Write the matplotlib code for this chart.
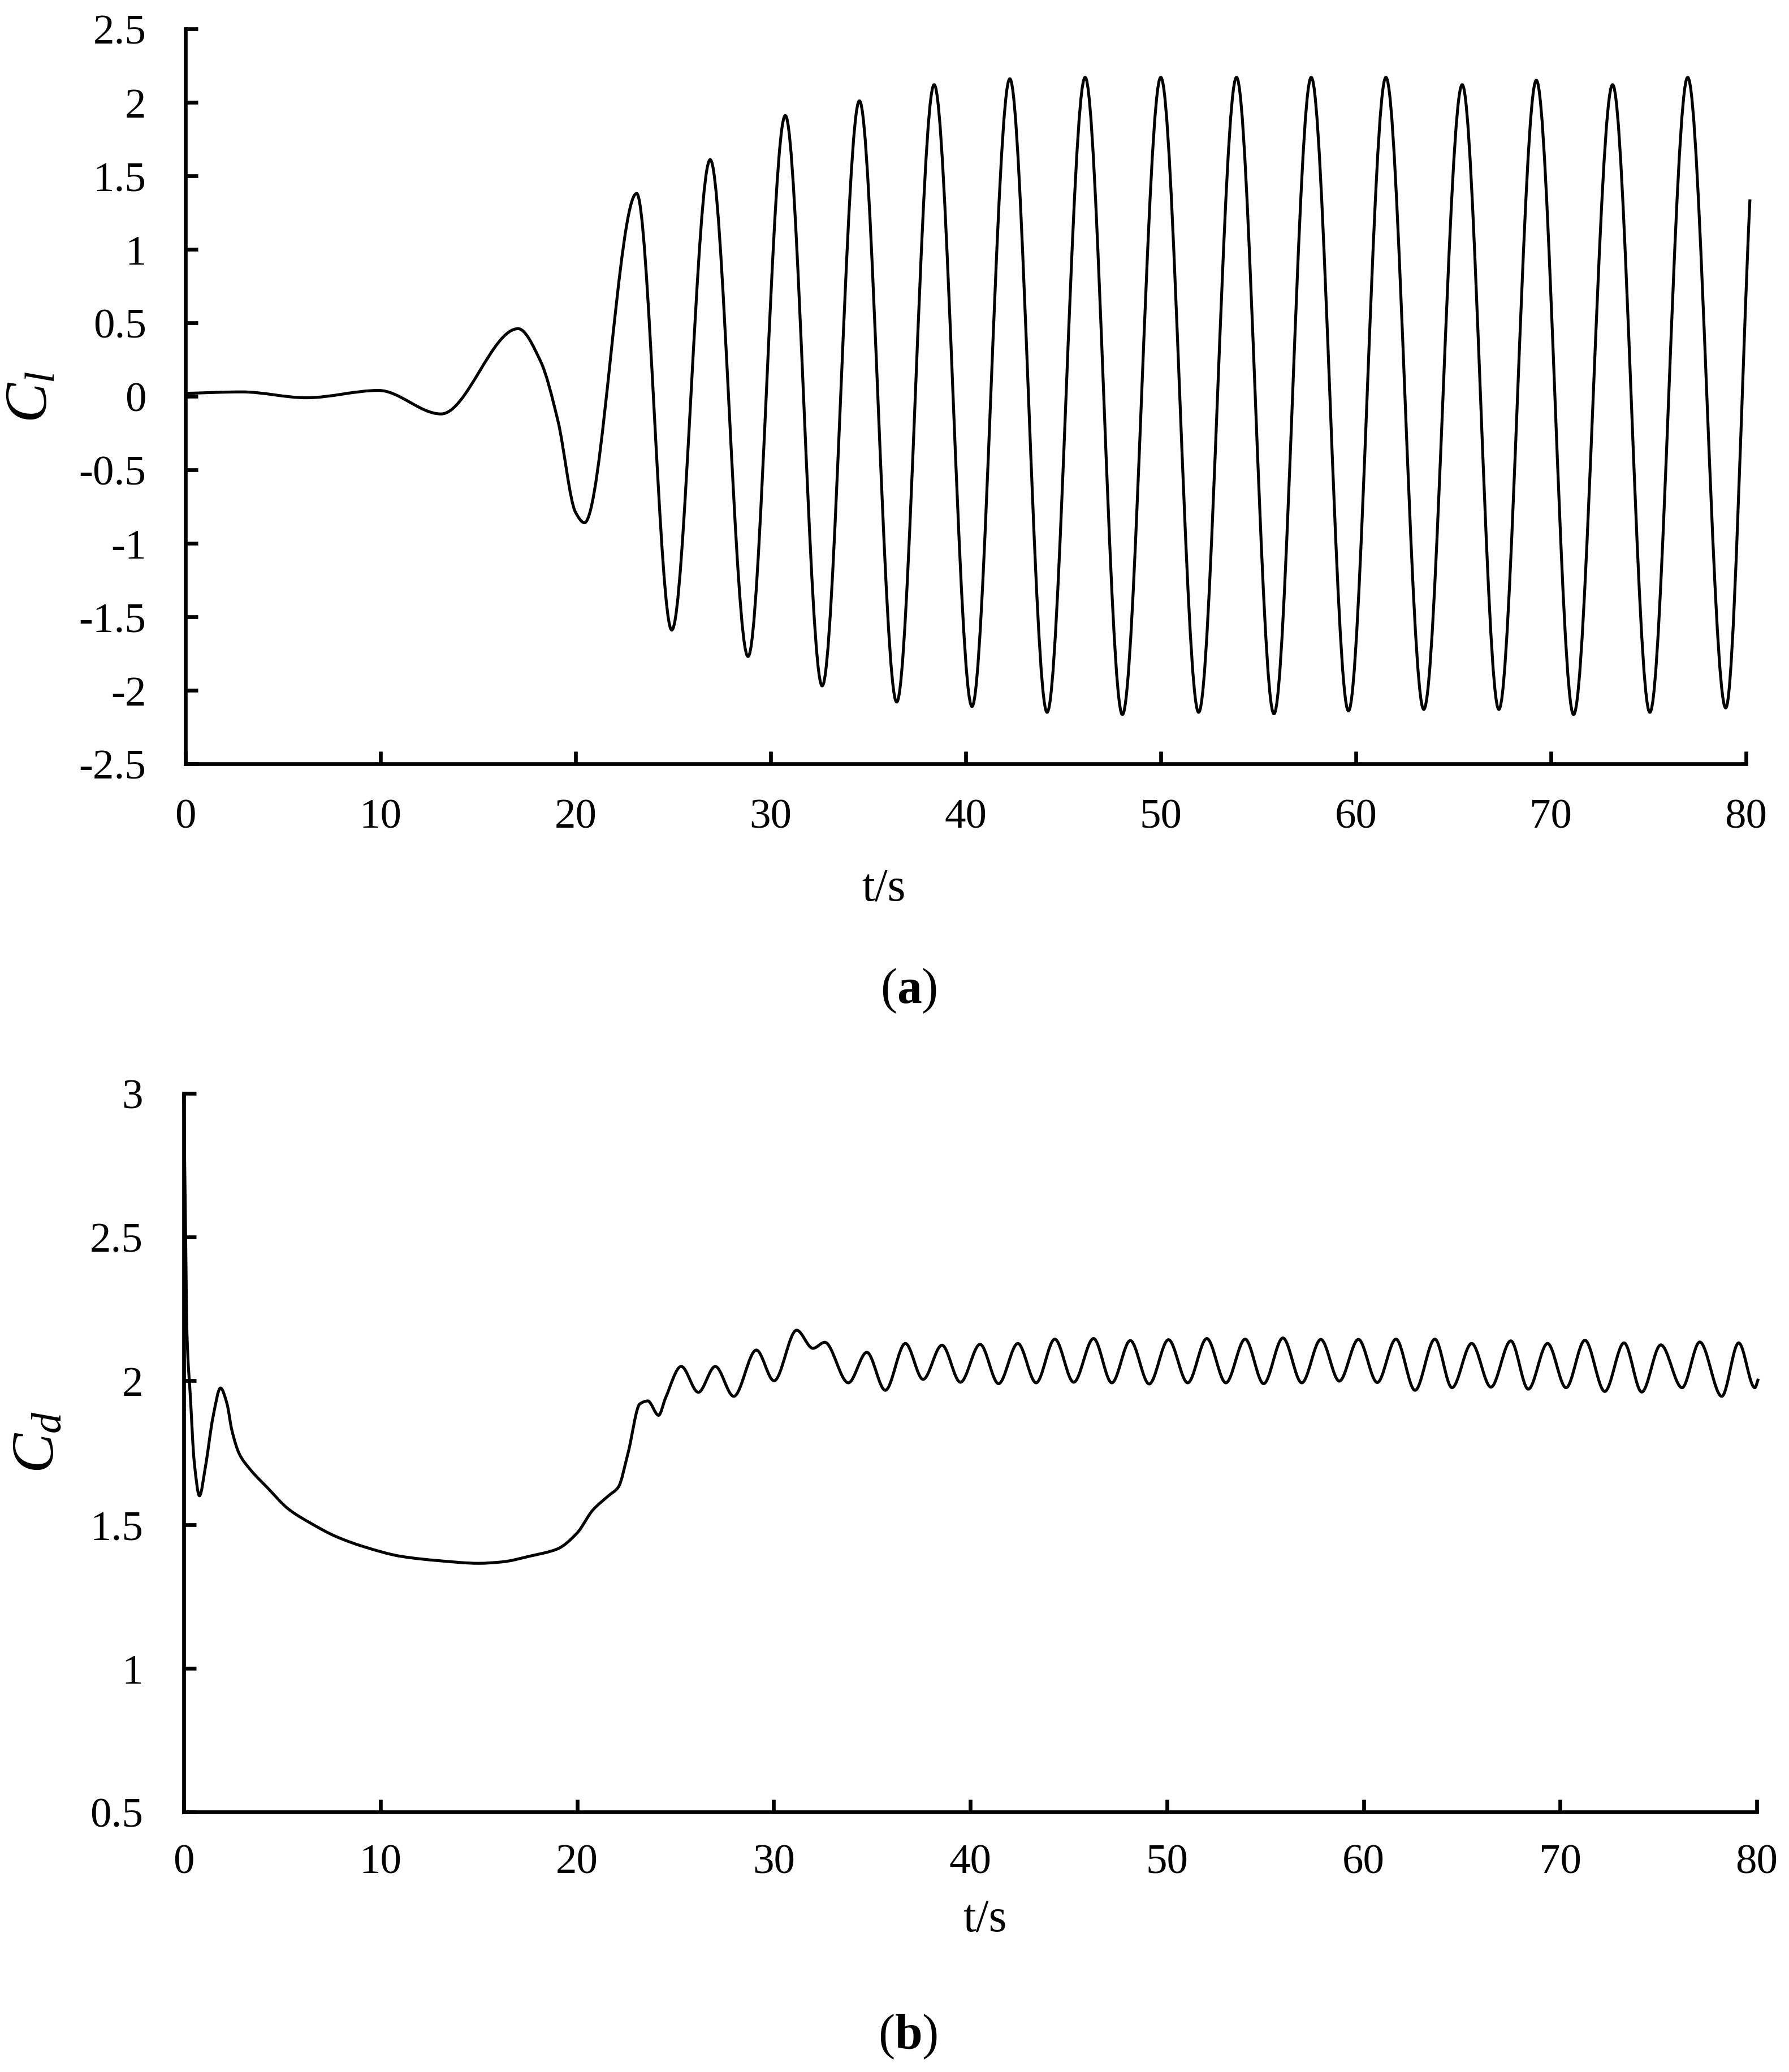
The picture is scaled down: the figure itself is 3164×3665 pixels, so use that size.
import numpy as np
import matplotlib
matplotlib.use("Agg")
import matplotlib.pyplot as plt
from matplotlib.path import Path
from matplotlib.patches import PathPatch

plt.rcParams['font.family'] = ['Liberation Serif', 'DejaVu Serif']
plt.rcParams['mathtext.fontset'] = 'custom'
plt.rcParams['mathtext.rm'] = 'Liberation Serif'
plt.rcParams['mathtext.it'] = 'Liberation Serif:italic'
plt.rcParams['mathtext.bf'] = 'Liberation Serif:bold'
plt.rcParams['axes.unicode_minus'] = False

# lift coefficient (turning points and a few shape points)
cl_t = [0.0, 2.9, 6.2, 9.9, 13.1, 17.05, 18.2, 19.1, 20.0, 20.45,
        23.13, 24.93, 26.9, 28.84, 30.75, 32.64, 34.55, 36.46, 38.38, 40.32,
        42.26, 44.17, 46.12, 48.03, 50.0, 51.94, 53.88, 55.8, 57.71, 59.62,
        61.54, 63.48, 65.45, 67.33, 69.25, 71.16, 73.16, 75.07, 77.01, 78.96,
        80.2]
cl_v = [0.02, 0.03, -0.01, 0.04, -0.12, 0.46, 0.24, -0.17, -0.79, -0.86,
        1.38, -1.59, 1.61, -1.77, 1.91, -1.97, 2.01, -2.08, 2.12, -2.11,
        2.16, -2.15, 2.17, -2.165, 2.17, -2.15, 2.17, -2.16, 2.17, -2.14,
        2.17, -2.13, 2.12, -2.13, 2.15, -2.165, 2.12, -2.15, 2.17, -2.12,
        1.34]

# drag coefficient
cd_t = [0.0, 0.1, 0.16, 0.34, 0.53, 0.8, 1.1, 1.49, 1.87, 2.2,
        2.44, 2.83, 3.4, 4.27, 5.32, 6.47, 7.72, 9.15, 11.07, 13.0,
        15.0, 16.2, 17.6, 19.0, 20.0, 20.8, 21.6, 22.1, 22.6, 23.2,
        23.6, 24.15, 24.5, 25.3, 26.17, 27.03, 27.97, 29.12, 30.02, 31.17,
        32.0, 32.6, 33.8, 34.74, 35.68, 36.7, 37.6, 38.56, 39.5, 40.5,
        41.44, 42.42, 43.35, 44.3, 45.26, 46.27, 47.2, 48.14, 49.1, 50.08,
        51.06, 52.03, 53.0, 53.98, 54.92, 55.9, 56.86, 57.83, 58.77, 59.74,
        60.7, 61.65, 62.62, 63.63, 64.5, 65.5, 66.48, 67.49, 68.38, 69.36,
        70.3, 71.26, 72.27, 73.25, 74.15, 75.12, 76.2, 77.1, 78.22, 79.08,
        79.9, 80.08]
cd_v = [3.0, 2.48, 2.17, 1.94, 1.72, 1.6, 1.7, 1.875, 1.975, 1.92,
        1.83, 1.745, 1.69, 1.627, 1.554, 1.504, 1.459, 1.423, 1.389, 1.374,
        1.365, 1.37, 1.39, 1.415, 1.47, 1.55, 1.6, 1.63, 1.75, 1.92,
        1.93, 1.88, 1.94, 2.05, 1.96, 2.05, 1.946, 2.107, 2.0, 2.176,
        2.113, 2.134, 1.993, 2.099, 1.967, 2.13, 2.005, 2.124, 1.995, 2.127,
        1.99, 2.13, 1.993, 2.145, 1.995, 2.147, 1.993, 2.14, 1.989, 2.143,
        1.993, 2.147, 1.993, 2.145, 1.99, 2.149, 1.993, 2.144, 1.999, 2.144,
        1.994, 2.145, 1.967, 2.145, 1.976, 2.13, 1.978, 2.139, 1.971, 2.13,
        1.976, 2.141, 1.963, 2.132, 1.961, 2.125, 1.976, 2.135, 1.946, 2.132,
        1.976, 2.007]

x_ticks = [0, 10, 20, 30, 40, 50, 60, 70, 80]
cl_ticks = [-2.5, -2, -1.5, -1, -0.5, 0, 0.5, 1, 1.5, 2, 2.5]
cd_ticks = [0.5, 1, 1.5, 2, 2.5, 3]


def smooth_path(t, y):
    # monotone cubic (Fritsch-Carlson) tangents, drawn as bezier segments
    t = np.asarray(t, dtype=float)
    y = np.asarray(y, dtype=float)
    h = np.diff(t)
    d = np.diff(y) / h
    m = np.zeros_like(y)
    m[0] = d[0]
    m[-1] = d[-1]
    for k in range(1, len(y) - 1):
        if d[k - 1] * d[k] > 0:
            w1 = 2 * h[k] + h[k - 1]
            w2 = h[k] + 2 * h[k - 1]
            m[k] = (w1 + w2) / (w1 / d[k - 1] + w2 / d[k])
    verts = [(t[0], y[0])]
    codes = [Path.MOVETO]
    for k in range(len(h)):
        verts.append((t[k] + h[k] / 3, y[k] + m[k] * h[k] / 3))
        verts.append((t[k + 1] - h[k] / 3, y[k + 1] - m[k + 1] * h[k] / 3))
        verts.append((t[k + 1], y[k + 1]))
        codes += [Path.CURVE4] * 3
    return Path(verts, codes)


def style_axes(ax, yticks, ypad, xpad):
    for side in ['top', 'right']:
        ax.spines[side].set_visible(False)
    for side in ['left', 'bottom']:
        ax.spines[side].set_linewidth(4.8)
    ax.set_xlim(0, 80)
    ax.set_xticks(x_ticks)
    ax.set_xticklabels([f"{v:g}" for v in x_ticks])
    ax.set_yticks(yticks)
    ax.set_yticklabels([f"{v:g}" for v in yticks])
    ax.tick_params(direction='in', length=16, width=4.8, labelsize=54)
    ax.tick_params(axis='y', pad=ypad)
    ax.tick_params(axis='x', pad=xpad)


W, H = 3164, 3666
fig = plt.figure(figsize=(W / 100, H / 100), dpi=100)

# (a) lift
ax1 = fig.add_axes([328 / W, 1 - 1352 / H, 2760 / W, 1300 / H])
style_axes(ax1, cl_ticks, 50, 44)
ax1.set_ylim(-2.5, 2.5)
ax1.add_patch(PathPatch(smooth_path(cl_t, cl_v), transform=ax1.transData,
                        facecolor='none', edgecolor='black', lw=3.7,
                        joinstyle='round', clip_on=False))
ax1.text(-0.098, 0.5, '$C_l$', transform=ax1.transAxes, rotation=90,
         ha='center', va='center', fontsize=76)
fig.text(1563 / W, 1 - 1593 / H, 't/s', ha='center', va='baseline', fontsize=59)
fig.text(1607 / W, 1 - 1753 / H, r'($\mathbf{a}$)', ha='center', va='center', fontsize=63)

# (b) drag
ax2 = fig.add_axes([325 / W, 1 - 3206 / H, 2782 / W, 1271 / H])
style_axes(ax2, cd_ticks, 52, 40)
ax2.set_ylim(0.5, 3)
ax2.add_patch(PathPatch(smooth_path(cd_t, cd_v), transform=ax2.transData,
                        facecolor='none', edgecolor='black', lw=3.7,
                        joinstyle='round', clip_on=False))
ax2.text(-0.092, 0.515, '$C_d$', transform=ax2.transAxes, rotation=90,
         ha='center', va='center', fontsize=76)
fig.text(1742 / W, 1 - 3416 / H, 't/s', ha='center', va='baseline', fontsize=59)
fig.text(1606 / W, 1 - 3603 / H, r'($\mathbf{b}$)', ha='center', va='center', fontsize=63)

fig.savefig('out.png', dpi=100, facecolor='white')
